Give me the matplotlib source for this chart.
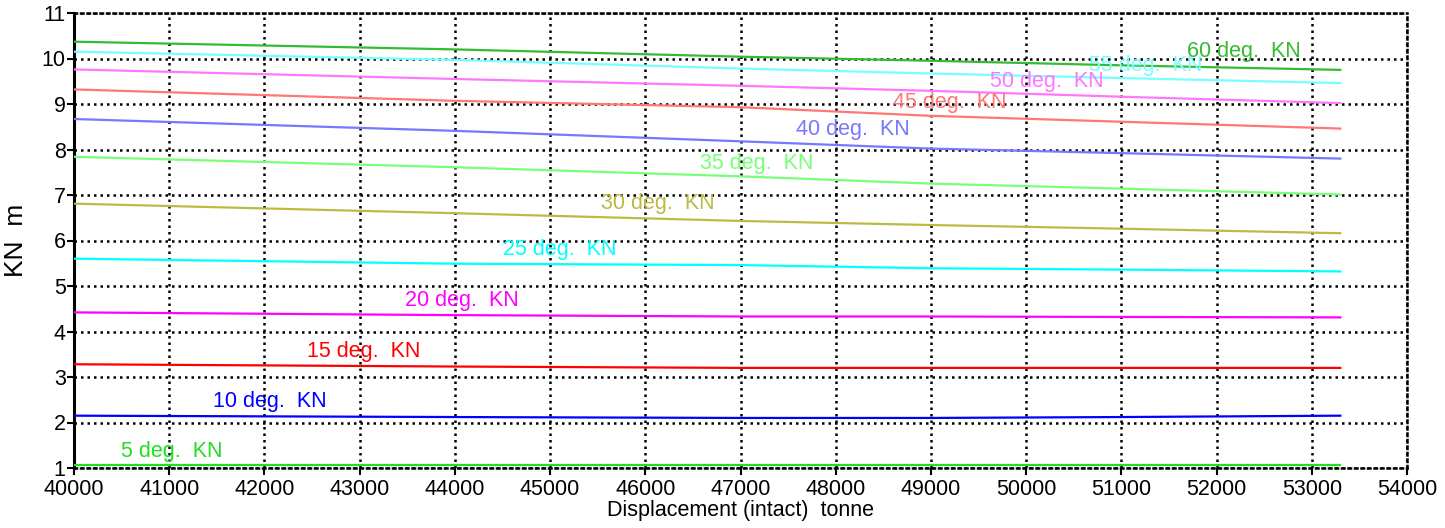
import matplotlib
matplotlib.use("Agg")
import matplotlib.pyplot as plt

plt.rcParams['font.family'] = ['Liberation Sans', 'DejaVu Sans']

disp = [40000, 44000, 47000, 49000, 51000, 53300]
kn05 = [1.07, 1.07, 1.07, 1.07, 1.07, 1.07]
kn10 = [2.15, 2.12, 2.10, 2.10, 2.12, 2.15]
kn15 = [3.28, 3.23, 3.20, 3.20, 3.20, 3.20]
kn20 = [4.42, 4.36, 4.33, 4.33, 4.32, 4.31]
kn25 = [5.60, 5.49, 5.46, 5.39, 5.36, 5.32]
kn30 = [6.81, 6.60, 6.43, 6.34, 6.26, 6.16]
kn35 = [7.84, 7.61, 7.41, 7.25, 7.14, 7.01]
kn40 = [8.67, 8.41, 8.18, 8.02, 7.92, 7.80]
kn45 = [9.32, 9.07, 8.93, 8.74, 8.61, 8.46]
kn50 = [9.76, 9.55, 9.40, 9.29, 9.16, 9.02]
kn55 = [10.15, 9.97, 9.78, 9.67, 9.57, 9.46]
kn60 = [10.37, 10.20, 10.04, 9.95, 9.85, 9.75]

series = [kn05, kn10, kn15, kn20, kn25, kn30, kn35, kn40, kn45, kn50, kn55, kn60]
labels = ["5 deg.  KN", "10 deg.  KN", "15 deg.  KN", "20 deg.  KN", "25 deg.  KN",
          "30 deg.  KN", "35 deg.  KN", "40 deg.  KN", "45 deg.  KN", "50 deg.  KN",
          "55 deg.  KN", "60 deg.  KN"]
label_x = [40490, 41460, 42450, 43480, 44510, 45540, 46570, 47580, 48600, 49620, 50660, 51690]
label_y = [1.37, 2.46, 3.56, 4.68, 5.80, 6.81, 7.69, 8.43, 9.04, 9.50, 9.85, 10.15]
colors = ["#22dd22", "#0000ff", "#ff0000", "#ff00ff", "#00ffff", "#bbbb44",
          "#77ff77", "#7777ff", "#ff7777", "#ff77ff", "#77ffff", "#33bb33"]

fig = plt.figure(figsize=(14.45, 5.28), dpi=100)
ax = fig.add_axes([74/1445, 1-468/528, (1407-74)/1445, (468-13)/528])

for ys, lab, lx, ly, c in zip(series, labels, label_x, label_y, colors):
    ax.plot(disp, ys, color=c, lw=1.6, zorder=3)
    ax.text(lx, ly, lab, color=c, fontsize=15.5, ha='left', va='center', zorder=4)

ax.set_xlim(40000, 54000)
ax.set_ylim(1, 11)
ax.set_xticks(range(40000, 54001, 1000))
ax.set_yticks(range(1, 12))
ax.grid(True, color='black', linestyle=(0, (1, 1.6)), linewidth=1.8)
for s in ['top', 'right', 'bottom']:
    ax.spines[s].set_linestyle((0, (1, 1.6)))
    ax.spines[s].set_linewidth(1.8)
ax.spines['left'].set_linewidth(2.2)
ax.tick_params(axis='both', direction='out', length=5, width=1.5, labelsize=15.5, pad=1)
ax.tick_params(axis='x', pad=3)
ax.set_xlabel("Displacement (intact)  tonne", fontsize=15.5, labelpad=0)
ax.set_ylabel("KN  m", fontsize=19, labelpad=10)

fig.savefig("out.png", dpi=100)
